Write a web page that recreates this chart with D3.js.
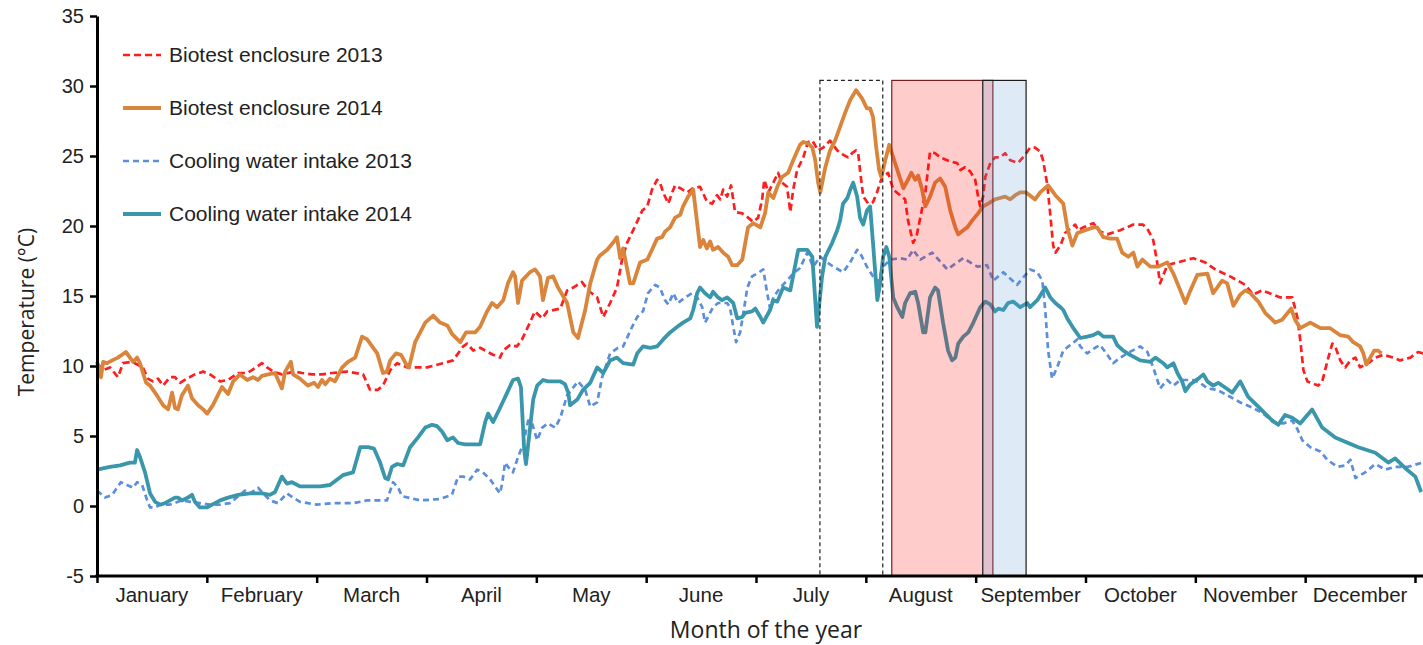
<!DOCTYPE html>
<html>
<head>
<meta charset="utf-8">
<script src="https://cdn.jsdelivr.net/npm/d3@7"></script>
<style>
  body { margin: 0; background: #fff; }
  svg { display: block; }
</style>
</head>
<body>
<svg id="chart" width="1423" height="645"></svg>
<script>
// Month labels along the x axis (day-of-year based scale, 12 equal bands)
const months = ["January", "February", "March", "April", "May", "June",
                "July", "August", "September", "October", "November", "December"];
const yTicks = [-5, 0, 5, 10, 15, 20, 25, 30, 35];

// Daily water temperature, [day of year, °C]
const biotest2013 = [
  [0,10.2],[1.7,9.7],[3.6,9.9],[5.8,9.2],[7.2,10.2],[9.7,10.3],[12.7,9.9],[14.1,9.1],[15.5,8.9],[16.9,9.1],
  [18.3,8.6],[20.2,9.2],[21.6,9.2],[23.0,8.8],[24.9,9.1],[27.1,9.4],[29.4,9.6],[31.3,9.4],[34.1,8.9],[36.3,9.0],
  [39.1,9.5],[41.6,9.5],[42.9,9.7],[45.7,10.2],[47.1,9.9],[48.8,9.6],[51.2,9.4],[54.8,9.6],[56.8,9.5],[59.6,9.4],
  [62.3,9.4],[65.1,9.5],[69.3,9.6],[73.7,9.4],[75.6,8.3],[77.8,8.3],[79.2,8.6],[81.2,9.7],[83.1,10.2],[85.9,9.9],
  [91.4,9.9],[95.8,10.2],[98.6,10.4],[101.4,11.4],[102.5,11.6],[104.2,11.1],[106.1,11.3],[109.7,10.8],[111.6,10.6],[112.5,11.1],
  [114.4,11.5],[116.3,11.4],[117.7,11.9],[119.9,13.1],[121.3,13.9],[123.3,13.4],[124.7,13.9],[128.3,14.1],[130.2,15.4],[131.9,15.6],
  [134.3,16.0],[136.0,15.4],[138.5,14.9],[140.2,13.5],[142.1,14.5],[144.0,15.6],[145.4,17.6],[146.8,18.8],[148.5,19.7],[151.0,21.1],
  [152.4,21.4],[153.7,22.6],[155.1,23.3],[155.9,23.1],[156.8,22.4],[158.2,21.6],[159.3,22.4],[160.1,22.9],[161.5,22.7],[163.4,22.4],
  [165.1,22.7],[167.0,22.8],[169.0,21.7],[170.4,21.6],[171.7,22.2],[172.6,21.9],[173.4,22.6],[174.5,22.1],[175.6,22.9],[176.7,21.0],
  [178.7,20.9],[180.3,20.6],[181.7,20.3],[183.1,20.6],[184.2,21.9],[184.8,23.3],[185.9,22.4],[187.3,23.1],[188.6,23.8],[189.7,23.1],
  [191.1,22.8],[192.0,21.0],[192.8,22.6],[193.9,24.0],[195.6,24.9],[196.9,26.0],[198.1,26.1],[199.7,25.4],[201.1,25.6],[203.0,26.1],
  [205.0,25.4],[206.6,25.1],[208.0,24.9],[209.1,25.2],[210.2,25.4],[210.8,25.2],[211.3,24.0],[212.2,22.1],[213.6,21.6],[214.9,21.7],
  [216.0,22.4],[217.4,23.5],[219.1,23.8],[220.5,22.6],[222.4,22.2],[223.8,21.9],[224.6,20.4],[226.0,18.8],[226.9,19.2],[228.0,20.6],
  [229.4,22.4],[230.7,25.3],[232.1,25.2],[233.5,24.9],[236.3,24.6],[238.2,24.5],[239.1,24.0],[240.4,24.2],[241.8,23.9],[243.2,23.3],
  [244.0,22.1],[244.6,21.4],[245.4,22.1],[246.0,23.5],[247.4,24.5],[248.7,24.9],[250.1,24.9],[251.5,25.2],[252.9,24.7],[255.1,24.5],
  [257.1,25.1],[258.4,25.6],[259.8,25.6],[261.2,25.3],[262.0,24.7],[263.2,22.9],[264.0,20.8],[264.8,18.6],[265.4,18.1],[266.8,18.6],
  [268.1,19.5],[269.0,19.7],[270.9,20.1],[271.7,19.7],[273.1,19.9],[275.9,20.2],[277.8,19.6],[279.8,19.4],[283.4,19.7],[287.0,20.1],
  [289.7,20.1],[291.1,19.7],[292.5,19.0],[293.6,17.4],[294.4,15.9],[295.3,16.5],[296.4,17.2],[299.2,17.4],[303.6,17.7],[306.9,17.4],
  [309.7,16.9],[313.8,16.4],[318.0,15.8],[320.2,15.1],[322.7,15.4],[327.7,14.9],[331.0,14.9],[332.4,13.5],[333.2,11.9],[334.1,9.7],
  [335.2,8.9],[338.2,8.6],[339.3,8.9],[341.0,10.6],[342.1,11.6],[342.9,11.4],[344.3,10.4],[345.7,9.9],[347.1,10.4],[348.5,10.6],
  [349.8,9.9],[351.2,10.1],[352.6,10.3],[354.0,10.6],[356.2,10.8],[359.0,10.6],[360.9,10.4],[363.7,10.6],[365.9,11.0],[367.3,10.9]
];

const biotest2014 = [
  [0,10.3],[1.1,9.2],[1.7,10.3],[2.8,10.2],[4.2,10.4],[5.8,10.6],[8.0,11.0],[10.0,10.3],[11.1,10.6],[11.9,10.2],
  [13.6,8.8],[14.7,8.6],[16.6,7.9],[18.3,7.2],[19.7,6.9],[20.8,8.1],[21.6,7.0],[22.4,6.9],[23.5,7.9],[25.2,8.6],
  [26.3,7.7],[28.0,7.2],[29.4,6.9],[30.5,6.6],[32.1,7.2],[34.6,8.5],[36.3,8.0],[37.7,8.9],[39.6,9.4],[41.6,9.0],
  [43.2,9.2],[44.6,9.0],[45.7,9.3],[47.4,9.4],[49.3,9.5],[51.2,8.4],[52.1,9.6],[53.7,10.3],[54.3,9.4],[56.2,9.1],
  [58.4,8.6],[60.1,8.8],[61.2,8.5],[62.3,9.0],[63.2,8.7],[64.5,9.1],[65.9,8.9],[67.9,9.9],[69.5,10.3],[71.5,10.6],
  [73.4,12.1],[74.8,11.9],[76.2,11.4],[77.6,10.9],[79.2,9.5],[80.3,9.6],[81.2,10.4],[82.8,10.9],[84.2,10.8],[85.9,10.0],
  [86.4,9.9],[88.1,11.7],[90.9,13.1],[93.1,13.6],[95.0,13.1],[97.0,12.9],[98.3,12.3],[100.6,11.7],[102.2,12.4],[104.7,12.4],
  [106.1,12.8],[108.0,13.9],[109.4,14.5],[110.8,14.2],[112.5,14.7],[113.8,15.9],[115.2,16.7],[115.8,16.4],[116.6,14.5],[117.7,16.1],
  [119.9,16.7],[121.3,16.9],[122.7,16.4],[123.5,14.7],[124.9,16.3],[126.3,16.4],[127.7,15.6],[130.2,14.5],[131.9,12.4],[133.2,12.0],
  [135.2,14.0],[136.6,15.9],[138.5,17.6],[139.3,17.9],[141.3,18.3],[142.9,18.8],[144.0,19.2],[144.9,17.7],[145.7,18.4],[147.6,15.9],
  [148.5,15.9],[150.4,17.4],[152.4,17.6],[153.7,18.3],[155.1,19.1],[156.5,19.2],[157.3,19.6],[158.7,19.9],[160.1,20.6],[161.5,20.8],
  [162.3,21.4],[163.7,22.1],[165.1,22.6],[167.0,18.5],[167.9,19.0],[168.9,18.4],[169.8,18.9],[170.6,18.3],[172.0,18.5],[173.4,18.1],
  [174.8,17.8],[175.9,17.2],[177.3,17.2],[178.7,17.6],[180.3,19.9],[181.7,20.2],[183.7,19.9],[185.0,20.9],[185.9,22.4],[187.3,22.0],
  [188.4,22.8],[189.7,23.5],[191.4,23.8],[192.8,24.7],[194.7,25.8],[195.6,26.0],[196.9,25.9],[198.1,25.6],[198.9,24.7],[199.7,23.1],
  [200.3,22.4],[201.7,24.2],[203.0,25.4],[204.4,26.1],[205.8,27.1],[207.2,28.1],[208.6,29.0],[210.2,29.7],[211.9,29.1],[213.2,28.4],
  [214.1,28.4],[214.9,27.8],[215.8,25.6],[216.6,24.0],[217.2,23.5],[218.3,24.7],[219.4,25.8],[220.5,24.9],[221.9,23.8],[223.3,22.7],
  [224.6,23.3],[225.5,23.8],[226.6,23.3],[227.4,23.6],[228.5,22.6],[229.4,21.4],[230.7,22.1],[232.1,23.1],[233.5,23.4],[234.9,22.8],
  [236.3,21.1],[237.7,19.9],[238.5,19.4],[239.9,19.7],[241.0,19.9],[242.4,20.4],[244.0,20.9],[245.4,21.4],[246.8,21.6],[248.7,21.9],
  [250.1,22.0],[251.5,22.1],[252.9,21.9],[254.3,22.2],[255.7,22.4],[257.3,22.4],[259.8,21.9],[261.2,22.4],[263.4,22.9],[265.4,22.2],
  [267.6,21.6],[268.7,19.9],[270.1,18.6],[271.5,19.5],[273.7,19.7],[275.9,19.9],[277.0,19.9],[278.7,19.2],[280.6,19.1],[282.5,19.1],
  [283.9,18.1],[285.6,17.8],[287.0,18.1],[288.1,17.1],[289.5,17.6],[291.7,17.1],[293.9,17.1],[296.4,17.4],[298.1,16.6],[300.0,15.4],
  [301.4,14.5],[302.8,15.4],[304.7,16.5],[307.5,16.6],[309.1,15.2],[311.6,16.1],[313.0,15.9],[314.7,14.3],[316.6,15.1],[318.0,15.4],
  [319.4,15.2],[321.6,14.6],[323.5,13.8],[326.3,13.1],[328.2,13.3],[330.7,14.1],[331.8,13.3],[333.2,12.7],[336.0,13.1],[338.8,12.7],
  [341.5,12.7],[344.3,12.2],[346.5,12.1],[347.9,11.7],[349.8,11.4],[350.7,10.9],[351.5,10.1],[352.6,10.6],[353.7,11.1],[354.8,11.1],
  [355.7,10.9]
];

const intake2013 = [
  [0,1.1],[2.2,0.6],[4.2,0.8],[5.8,1.4],[6.6,1.7],[8.3,1.5],[10.0,1.3],[11.1,1.7],[12.5,1.5],[13.9,0.4],
  [14.7,-0.1],[16.1,-0.1],[17.5,0.1],[20.2,0.1],[22.4,0.3],[23.5,0.4],[25.8,0.3],[28.5,0.2],[31.3,0.1],[34.1,0.1],
  [36.8,0.2],[39.6,0.8],[41.0,1.1],[42.4,0.9],[44.6,1.3],[45.7,1.0],[47.9,0.4],[50.1,0.2],[52.6,0.9],[54.3,0.6],
  [56.2,0.3],[60.9,0.1],[65.4,0.2],[70.9,0.2],[74.8,0.4],[80.3,0.4],[82.0,1.7],[83.4,1.3],[84.5,0.7],[89.5,0.4],
  [95.0,0.5],[98.3,0.8],[100.0,2.1],[101.4,2.1],[103.3,1.9],[105.3,2.6],[106.9,2.4],[108.9,1.9],[110.2,1.4],[111.6,0.9],
  [112.2,1.6],[113.0,3.1],[113.8,2.8],[115.2,2.4],[116.6,3.5],[118.0,4.4],[119.4,6.1],[120.5,5.9],[121.9,4.7],[123.3,5.6],
  [124.9,5.9],[126.9,5.6],[128.3,6.3],[130.2,7.9],[133.2,8.9],[135.2,8.3],[136.6,7.1],[138.5,7.4],[139.9,9.2],[142.1,10.9],
  [144.3,11.3],[145.7,11.4],[148.2,12.8],[149.6,13.5],[151.2,13.9],[152.6,15.2],[154.6,15.8],[155.9,15.6],[157.3,14.7],[158.2,14.4],
  [159.6,15.2],[160.9,14.5],[162.9,14.9],[164.8,15.2],[166.2,14.9],[167.6,14.2],[168.4,13.1],[169.2,13.5],[170.6,14.2],[172.0,14.5],
  [174.5,14.5],[175.3,14.2],[176.2,12.8],[177.0,11.7],[178.1,12.4],[178.9,13.6],[180.1,15.6],[181.4,16.4],[182.8,16.6],[184.5,16.9],
  [185.6,15.2],[186.4,14.1],[187.3,14.9],[189.2,15.6],[191.1,16.1],[192.8,16.6],[194.7,17.0],[196.7,18.1],[198.3,17.1],[200.3,17.8],
  [202.2,17.4],[203.9,17.1],[206.6,16.7],[208.6,17.4],[210.5,18.3],[211.3,18.1],[213.2,17.1],[214.9,16.4],[216.3,16.0],[217.7,17.1],
  [219.7,17.6],[222.4,17.7],[224.4,17.6],[226.0,18.3],[228.0,17.6],[231.3,18.1],[235.5,16.9],[239.9,17.7],[243.8,17.1],[246.5,17.2],
  [248.2,16.1],[251.0,16.7],[254.8,15.8],[258.4,16.9],[260.4,16.7],[261.8,16.1],[262.6,14.0],[263.4,11.1],[264.5,9.1],[265.9,9.9],
  [267.6,11.1],[269.5,11.5],[271.5,11.9],[272.3,11.4],[274.2,10.9],[276.4,11.3],[277.8,11.5],[279.8,10.8],[281.4,10.2],[283.4,10.6],
  [285.3,10.9],[288.9,11.4],[290.9,11.0],[292.5,9.9],[294.4,8.4],[296.4,9.0],[298.1,8.6],[300.0,9.0],[303.6,9.0],[305.5,8.8],
  [307.5,8.4],[310.2,8.3],[313.8,7.8],[316.6,7.4],[320.2,7.0],[323.0,6.6],[325.7,6.0],[328.5,5.9],[331.0,6.1],[332.4,5.5],
  [333.8,4.7],[336.0,4.2],[338.8,3.9],[340.7,3.3],[343.5,2.8],[345.7,2.9],[347.1,3.3],[348.5,2.0],[351.2,2.4],[354.0,3.0],
  [356.8,2.6],[359.5,2.8],[363.1,2.8],[367.0,3.1]
];

const intake2014 = [
  [0,2.6],[3.6,2.8],[6.4,2.9],[9.1,3.1],[10.5,3.1],[11.1,4.0],[11.9,3.5],[13.3,2.4],[14.7,0.9],[16.1,0.3],
  [17.5,0.1],[18.8,0.2],[20.2,0.4],[21.6,0.6],[22.4,0.6],[23.5,0.4],[25.2,0.6],[26.3,0.8],[27.1,0.3],[28.5,-0.1],
  [30.5,-0.1],[31.9,0.1],[34.1,0.4],[36.3,0.6],[39.1,0.8],[42.4,0.9],[45.7,0.9],[47.9,0.8],[49.3,1.0],[51.2,2.1],
  [52.6,1.6],[54.0,1.7],[56.2,1.4],[59.0,1.4],[61.8,1.4],[64.5,1.5],[68.1,2.2],[70.9,2.4],[72.9,4.2],[75.1,4.2],
  [76.7,4.1],[78.4,3.1],[79.8,2.0],[80.6,1.9],[81.7,2.8],[83.1,3.0],[84.8,2.9],[86.7,4.2],[88.9,4.9],[90.9,5.6],
  [92.8,5.8],[94.2,5.7],[95.6,5.3],[97.0,4.7],[98.6,4.9],[100.0,4.5],[101.9,4.4],[106.1,4.4],[107.5,6.0],[108.3,6.6],
  [109.7,6.0],[111.6,7.0],[113.6,8.1],[115.2,9.0],[116.6,9.1],[117.4,8.5],[118.3,4.0],[118.8,3.0],[119.9,5.5],[120.8,7.6],
  [121.9,8.6],[123.5,9.0],[124.9,8.9],[128.3,8.9],[129.6,8.7],[130.5,8.1],[131.0,7.2],[133.0,7.6],[134.6,8.3],[136.6,8.8],
  [138.5,9.9],[140.2,9.5],[142.1,10.4],[144.0,10.6],[145.7,10.2],[148.5,10.1],[149.6,10.9],[151.2,11.4],[153.2,11.3],[155.1,11.4],
  [156.8,11.9],[158.7,12.4],[160.7,12.8],[162.3,13.1],[164.3,13.4],[165.1,14.0],[166.2,15.2],[167.0,15.6],[168.4,15.2],[169.8,14.9],
  [170.6,15.3],[172.0,14.9],[173.1,14.7],[174.5,14.9],[176.2,14.5],[177.3,13.4],[178.7,13.5],[179.5,13.8],[181.4,13.9],[182.3,14.1],
  [183.7,13.5],[184.5,13.1],[186.4,14.0],[187.3,14.7],[188.4,14.6],[190.0,15.6],[192.0,15.4],[194.2,18.3],[196.7,18.3],[198.1,17.8],
  [199.4,12.8],[200.8,16.4],[201.7,17.8],[203.6,18.8],[205.0,19.7],[205.8,20.4],[206.6,21.6],[207.8,22.0],[208.6,22.6],[209.4,23.1],
  [210.5,22.1],[211.3,20.6],[212.2,20.1],[213.2,21.1],[214.1,21.4],[214.9,18.8],[216.1,14.7],[216.9,15.9],[217.7,17.8],[218.6,18.5],
  [219.4,17.8],[220.5,14.9],[221.6,14.2],[223.0,13.5],[223.8,14.5],[225.2,15.2],[226.6,15.3],[227.4,14.5],[228.8,12.4],[229.4,12.4],
  [230.7,14.9],[232.1,15.6],[232.9,15.4],[234.3,13.1],[235.7,11.1],[236.8,10.4],[237.7,10.6],[238.5,11.6],[239.9,12.1],[241.3,12.4],
  [242.7,13.1],[244.6,14.2],[246.0,14.6],[247.4,14.4],[248.7,13.9],[249.6,14.1],[251.0,14.0],[252.3,14.5],[253.7,14.6],[255.7,14.2],
  [257.6,14.5],[258.4,14.2],[260.4,14.7],[262.6,15.6],[264.0,14.9],[265.4,14.5],[266.8,14.2],[267.6,14.0],[268.7,13.4],[270.4,12.7],
  [272.3,12.0],[274.2,12.1],[275.9,12.2],[277.3,12.4],[278.7,12.1],[281.4,12.1],[282.5,11.5],[284.2,11.1],[286.1,10.8],[288.9,10.4],
  [291.7,10.3],[293.1,10.6],[295.3,10.2],[296.4,9.9],[298.1,10.2],[299.2,9.5],[300.5,8.9],[301.4,8.2],[302.8,8.7],[305.0,9.1],
  [306.4,9.4],[307.5,8.9],[309.1,8.6],[310.5,8.8],[313.3,8.3],[314.4,8.1],[316.6,8.9],[318.8,7.8],[321.6,7.1],[323.5,6.6],
  [325.5,6.1],[327.1,5.8],[329.0,6.5],[331.0,6.3],[333.2,5.9],[336.5,6.9],[339.3,5.6],[342.9,4.9],[346.5,4.5],[349.3,4.2],
  [354.0,3.8],[357.6,3.1],[359.5,3.4],[362.3,2.7],[365.1,2.1],[366.7,1.0]
];

// Highlighted periods, [start day, end day]
const framedPeriod = [200.2, 217.6];
const redPeriod = [220.1, 248.1];
const bluePeriod = [245.3, 257.3];
const periodTop = 30.4;

const W = 1423, H = 645;
const svg = d3.select("#chart");
svg.append("rect").attr("width", W).attr("height", H).attr("fill", "#fff");

const x = d3.scaleLinear().domain([0, 365]).range([97, 1415]);
const y = d3.scaleLinear().domain([-5, 35]).range([576, 16]);

const series = [
  { name: "Biotest enclosure 2013", data: biotest2013, color: "#ff1e1e", width: 2.7, dash: "7,4" },
  { name: "Biotest enclosure 2014", data: biotest2014, color: "#d9853c", width: 3.8, dash: null },
  { name: "Cooling water intake 2013", data: intake2013, color: "#5b8edb", width: 2.7, dash: "6,4" },
  { name: "Cooling water intake 2014", data: intake2014, color: "#3a97ab", width: 3.8, dash: null }
];

const line = d3.line().x(d => x(d[0])).y(d => y(d[1]));

const lines = svg.append("g");
series.forEach(s => {
  lines.append("path")
    .datum(s.data)
    .attr("d", line)
    .attr("fill", "none")
    .attr("stroke", s.color)
    .attr("stroke-width", s.width)
    .attr("stroke-linejoin", "round")
    .attr("stroke-dasharray", s.dash);
});

// Period boxes drawn over the lines
const boxes = svg.append("g");
boxes.append("rect")
  .attr("x", x(framedPeriod[0])).attr("y", y(periodTop))
  .attr("width", x(framedPeriod[1]) - x(framedPeriod[0]))
  .attr("height", y(-5) - y(periodTop))
  .attr("fill", "none").attr("stroke", "#222").attr("stroke-width", 1.2)
  .attr("stroke-dasharray", "4,3");
boxes.append("rect")
  .attr("x", x(redPeriod[0])).attr("y", y(periodTop))
  .attr("width", x(redPeriod[1]) - x(redPeriod[0]))
  .attr("height", y(-5) - y(periodTop))
  .attr("fill", "rgba(255,0,0,0.2)").attr("stroke", "#7a1f1f").attr("stroke-width", 1.2);
boxes.append("rect")
  .attr("x", x(bluePeriod[0])).attr("y", y(periodTop))
  .attr("width", x(bluePeriod[1]) - x(bluePeriod[0]))
  .attr("height", y(-5) - y(periodTop))
  .attr("fill", "rgba(91,155,213,0.2)").attr("stroke", "#1a1a1a").attr("stroke-width", 1.2);

// Y axis
const yAxis = svg.append("g")
  .attr("transform", `translate(${x(0)},0)`)
  .call(d3.axisLeft(y).tickValues(yTicks).tickFormat(d => String(d))
        .tickSize(7).tickSizeOuter(0).tickPadding(6));
yAxis.select(".domain").attr("stroke", "#000").attr("stroke-width", 3);
yAxis.selectAll(".tick line").attr("stroke", "#000").attr("stroke-width", 2.5);
yAxis.selectAll(".tick text")
  .attr("font-family", "'Liberation Sans', Arial, sans-serif")
  .attr("font-size", 20).attr("fill", "#222");

// X axis: month boundaries as ticks, names centred in each band
const monthEdges = d3.range(months.length + 1).map(i => i * 365 / months.length);
const xAxis = svg.append("g")
  .attr("transform", `translate(0,${y(-5)})`)
  .call(d3.axisBottom(x).tickValues(monthEdges).tickFormat("").tickSize(7).tickSizeOuter(0));
xAxis.select(".domain").remove();
xAxis.selectAll(".tick line").attr("stroke", "#000").attr("stroke-width", 2.5);
xAxis.append("line")
  .attr("x1", x(0) - 1.5).attr("x2", W).attr("y1", 0).attr("y2", 0)
  .attr("stroke", "#000").attr("stroke-width", 3);

svg.append("g").selectAll("text")
  .data(months)
  .join("text")
  .attr("x", (d, i) => x((i + 0.5) * 365 / months.length))
  .attr("y", 602)
  .attr("text-anchor", "middle")
  .attr("font-family", "'Liberation Sans', Arial, sans-serif")
  .attr("font-size", 20.5)
  .attr("fill", "#222")
  .text(d => d);

// Axis titles
svg.append("text")
  .attr("x", (x(0) + x(365)) / 2 + 10).attr("y", 638)
  .attr("text-anchor", "middle")
  .attr("font-family", "'Open Sans', sans-serif")
  .attr("font-size", 23).attr("fill", "#222")
  .text("Month of the year");

svg.append("text")
  .attr("transform", `translate(34,${(y(35) + y(-5)) / 2 + 16}) rotate(-90)`)
  .attr("text-anchor", "middle")
  .attr("font-family", "'Open Sans', sans-serif")
  .attr("font-size", 21).attr("fill", "#222")
  .text("Temperature (°C)");

// Legend
const legend = svg.append("g");
series.forEach((s, i) => {
  const ly = 55 + i * 53;
  legend.append("line")
    .attr("x1", 123).attr("x2", 161).attr("y1", ly).attr("y2", ly)
    .attr("stroke", s.color).attr("stroke-width", s.width)
    .attr("stroke-dasharray", s.dash);
  legend.append("text")
    .attr("x", 169).attr("y", ly).attr("dy", "0.35em")
    .attr("font-family", "'Liberation Sans', Arial, sans-serif")
    .attr("font-size", 21).attr("fill", "#222")
    .text(s.name);
});
</script>
</body>
</html>
